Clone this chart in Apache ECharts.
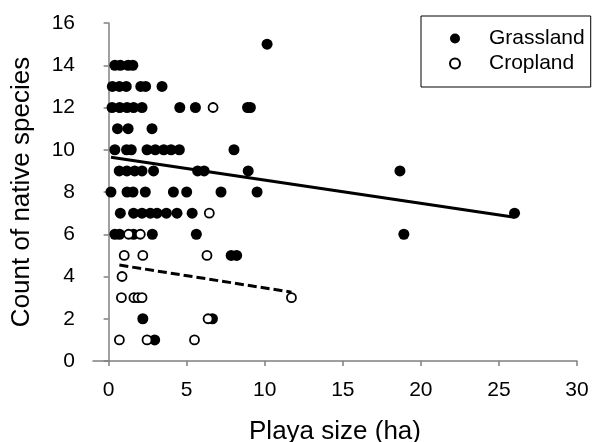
<!DOCTYPE html>
<html>
<head>
<meta charset="utf-8">
<script src="https://cdn.jsdelivr.net/npm/echarts@6/dist/echarts.min.js"></script>
<style>
  html, body { margin: 0; padding: 0; background: #fff; }
  #chart { width: 595px; height: 442px; }
</style>
</head>
<body>
<div id="chart"></div>
<script>
// Tick positions on the x axis (the axis itself starts at -1)
const xTicks = [0, 5, 10, 15, 20, 25, 30];

// Grassland playas: size (ha) and count of native species
const grassSize = [
  10.15,
  0.4, 0.75, 1.25, 1.55,
  0.24, 0.69, 1.13, 2.06, 2.37, 3.42,
  0.22, 0.71, 1.18, 1.6, 2.14, 4.56, 5.56, 8.9, 9.08,
  0.57, 1.25, 2.78,
  0.4, 1.15, 1.45, 2.46, 2.99, 3.53, 4.0, 4.53, 8.03,
  0.68, 1.17, 1.67, 2.14, 2.88, 5.7, 6.12, 8.94, 18.66,
  0.15, 1.18, 1.56, 2.35, 4.15, 5.0, 7.2, 9.51,
  0.75, 1.6, 2.14, 2.67, 3.1, 3.7, 4.38, 5.35, 26.0,
  0.4, 0.7, 1.6, 2.8, 5.62, 18.91,
  7.85, 8.2,
  2.19, 6.65,
  2.95
];
const grassCount = [
  15,
  14, 14, 14, 14,
  13, 13, 13, 13, 13, 13,
  12, 12, 12, 12, 12, 12, 12, 12, 12,
  11, 11, 11,
  10, 10, 10, 10, 10, 10, 10, 10, 10,
  9, 9, 9, 9, 9, 9, 9, 9, 9,
  8, 8, 8, 8, 8, 8, 8, 8,
  7, 7, 7, 7, 7, 7, 7, 7, 7,
  6, 6, 6, 6, 6, 6,
  5, 5,
  2, 2,
  1
];

// Cropland playas: size (ha) and count of native species
const cropSize = [6.69, 6.45, 1.28, 2.03, 1.0, 2.19, 6.3, 0.86, 0.82, 1.62, 1.88, 2.14, 11.71, 6.37, 0.69, 2.46, 5.5];
const cropCount = [12, 7, 6, 6, 5, 5, 5, 4, 3, 3, 3, 3, 3, 2, 1, 1, 1];

// Fitted regression lines (end points)
const grassFitX = [0.15, 26.0];
const grassFitY = [9.64, 6.8];
const cropFitX = [0.69, 11.71];
const cropFitY = [4.54, 3.26];

const zip = (xs, ys) => xs.map((x, i) => [x, ys[i]]);

const FONT = "'Liberation Sans', Arial, sans-serif";
const AXIS_GRAY = '#808080';

const chart = echarts.init(document.getElementById('chart'), null, { renderer: 'canvas' });

chart.setOption({
  animation: false,
  backgroundColor: '#fff',
  textStyle: { fontFamily: FONT, color: '#000' },
  grid: { left: 93, right: 18, top: 23, bottom: 81, outerBoundsMode: 'none', containLabel: false },
  legend: {
    orient: 'vertical',
    left: 421,
    top: 16,
    borderColor: '#000',
    borderWidth: 1,
    padding: [12, 6, 13, 28],
    itemWidth: 10,
    itemHeight: 10,
    itemGap: 4,
    textStyle: { fontFamily: FONT, fontSize: 21, color: '#000', padding: [0, 0, 0, 24] },
    data: [
      { name: 'Grassland', icon: 'circle' },
      { name: 'Cropland', icon: 'circle' }
    ]
  },
  xAxis: {
    type: 'value',
    min: -1,
    max: 30,
    name: 'Playa size (ha)',
    nameLocation: 'middle',
    nameGap: 58,
    nameTextStyle: { fontFamily: FONT, fontSize: 26, color: '#000' },
    axisLine: { show: true, lineStyle: { color: AXIS_GRAY, width: 1.5 } },
    axisTick: { show: true, inside: false, length: 5, customValues: xTicks, lineStyle: { color: AXIS_GRAY, width: 1.5 } },
    axisLabel: { customValues: xTicks, margin: 19, fontFamily: FONT, fontSize: 21, color: '#000' },
    splitLine: { show: false }
  },
  yAxis: {
    type: 'value',
    min: 0,
    max: 16,
    interval: 2,
    name: 'Count of native species',
    nameLocation: 'middle',
    nameGap: 58,
    nameTextStyle: { fontFamily: FONT, fontSize: 26, color: '#000' },
    axisLine: { show: true, lineStyle: { color: AXIS_GRAY, width: 1.5 } },
    axisTick: { show: true, inside: false, length: 5, lineStyle: { color: AXIS_GRAY, width: 1.5 } },
    axisLabel: { margin: 18, fontFamily: FONT, fontSize: 21, color: '#000' },
    splitLine: { show: false }
  },
  series: [
    {
      name: 'Grassland',
      type: 'scatter',
      symbol: 'circle',
      symbolSize: 11,
      itemStyle: { color: '#000', opacity: 1 },
      emphasis: { disabled: true },
      data: zip(grassSize, grassCount),
      z: 2
    },
    {
      name: 'Cropland',
      type: 'scatter',
      symbol: 'circle',
      symbolSize: 9,
      itemStyle: { color: '#fff', borderColor: '#000', borderWidth: 1.8, opacity: 1 },
      emphasis: { disabled: true },
      data: zip(cropSize, cropCount),
      z: 3
    },
    {
      name: 'Grassland fit',
      type: 'line',
      symbol: 'none',
      lineStyle: { color: '#000', width: 3 },
      emphasis: { disabled: true },
      data: zip(grassFitX, grassFitY),
      z: 4
    },
    {
      name: 'Cropland fit',
      type: 'line',
      symbol: 'none',
      lineStyle: { color: '#000', width: 3, type: [9, 4] },
      emphasis: { disabled: true },
      data: zip(cropFitX, cropFitY),
      z: 4
    }
  ]
});
</script>
</body>
</html>
